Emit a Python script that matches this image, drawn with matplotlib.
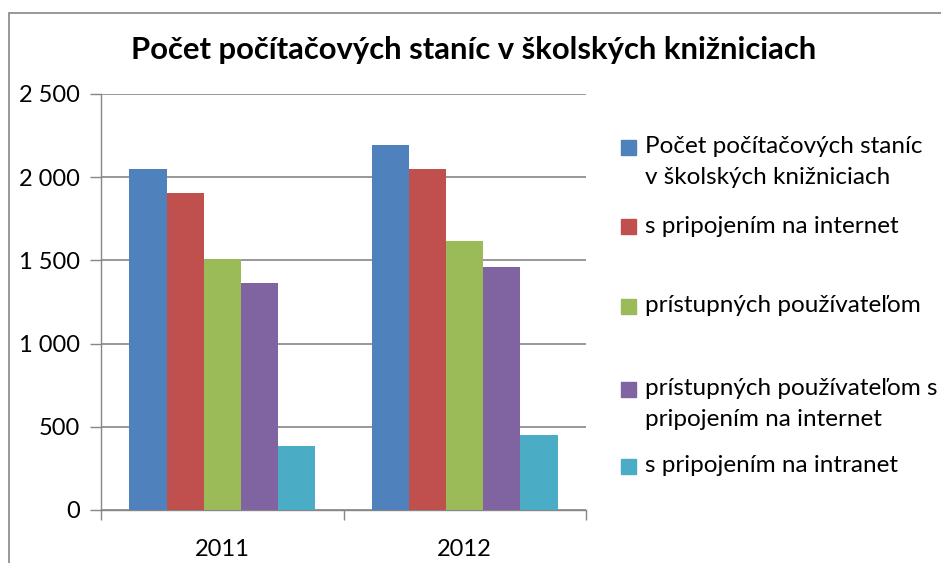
import matplotlib
matplotlib.use("Agg")
import matplotlib.pyplot as plt
from matplotlib.patches import Rectangle
import numpy as np

# údaje z grafu
roky = ["2011", "2012"]
nazvy = [
    "Počet počítačových staníc\nv školských knižniciach",
    "s pripojením na internet",
    "prístupných používateľom",
    "prístupných používateľom s\npripojením na internet",
    "s pripojením na intranet",
]
stanice = [2050, 2193]
internet = [1905, 2049]
pristupne = [1508, 1617]
pristupne_internet = [1364, 1460]
intranet = [385, 451]
farby = ["#4F81BD", "#C0504D", "#9BBB59", "#8064A2", "#4BACC6"]

plt.rcParams['font.family'] = ['Lato', 'DejaVu Sans']

fig = plt.figure(figsize=(9.41, 5.63), dpi=100)
ax = fig.add_axes([101 / 941, 53 / 563, 485 / 941, 416 / 563])

serie = [stanice, internet, pristupne, pristupne_internet, intranet]
x = np.arange(len(roky))
sirka = 0.765 / 5
for i, hodnoty in enumerate(serie):
    ax.bar(x - 0.765 / 2 + sirka * (i + 0.5), hodnoty, width=sirka,
           color=farby[i], zorder=3)

ax.set_xlim(-0.5, 1.5)
ax.set_ylim(0, 2500)
ax.set_yticks(np.arange(0, 2501, 500))
ax.set_yticklabels([f"{v:,}".replace(",", " ") for v in range(0, 2501, 500)])
ax.yaxis.grid(True, color="#868686", linewidth=1.2, zorder=0)

# popisy osi x bez značiek, značky na hraniciach kategórií
ax.set_xticks(x)
ax.set_xticklabels(roky)
ax.tick_params(axis="x", length=0, labelsize=17, pad=21)
ax.set_xticks([-0.5, 0.5, 1.5], minor=True)
ax.tick_params(axis="x", which="minor", length=7, color="#868686", width=1)
ax.tick_params(axis="y", length=8, color="#868686", width=1, labelsize=17, pad=7)

for s in ["top", "right"]:
    ax.spines[s].set_visible(False)
for s in ["left", "bottom"]:
    ax.spines[s].set_color("#868686")
    ax.spines[s].set_linewidth(1)

fig.text(474 / 941, 1 - 50 / 563, "Počet počítačových staníc v školských knižniciach",
         ha="center", va="center", fontsize=22.3, fontweight="bold")

# legenda
legenda_y = [147, 227, 306, 389, 466]
for i, nazov in enumerate(nazvy):
    yy = 1 - legenda_y[i] / 563
    fig.add_artist(Rectangle((621 / 941, yy - 7.5 / 563), 15 / 941, 15 / 563,
                             transform=fig.transFigure, color=farby[i]))
    fig.text(645 / 941, yy + 11 / 563, nazov, ha="left", va="top",
             fontsize=17.5, linespacing=1.6)

# rámček grafu
fig.add_artist(Rectangle((9 / 941, -0.1), 1.1, 1 - 13 / 563 + 0.1,
                         transform=fig.transFigure, fill=False,
                         edgecolor="#868686", linewidth=1.2))

fig.savefig("out.png", dpi=100)
